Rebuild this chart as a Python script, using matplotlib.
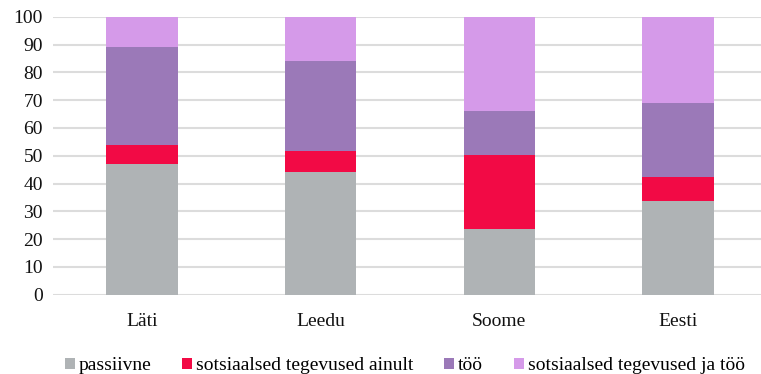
import numpy as np
import matplotlib.pyplot as plt

plt.rcParams['font.family'] = ['Liberation Serif', 'DejaVu Serif']

riigid = ['Läti', 'Leedu', 'Soome', 'Eesti']
passiivne = [47.0, 44.0, 23.7, 33.8]
sots_ainult = [7.0, 7.7, 26.5, 8.6]
too = [35.2, 32.4, 16.0, 26.7]
sots_ja_too = [10.8, 15.9, 33.8, 30.9]

seeriad = [
    ('passiivne', passiivne, '#afb3b5'),
    ('sotsiaalsed tegevused ainult', sots_ainult, '#f20a45'),
    ('töö', too, '#9b79b8'),
    ('sotsiaalsed tegevused ja töö', sots_ja_too, '#d59ae9'),
]

fig = plt.figure(figsize=(7.61, 3.74), dpi=100)
ax = fig.add_axes([0.0693, 0.212, 0.939, 0.743])

x = np.arange(len(riigid))
pohi = np.zeros(len(riigid))
for nimi, vaartused, varv in seeriad:
    ax.bar(x, vaartused, 0.4, bottom=pohi, color=varv, label=nimi, zorder=3)
    pohi += np.array(vaartused)

ax.set_xlim(-0.5, 3.5)
ax.set_ylim(0, 100)
ax.set_yticks(range(0, 101, 10))
ax.set_xticks(x)
ax.set_xticklabels(riigid)
ax.grid(axis='y', color='#dcdcdc', linewidth=1.5, zorder=0)
for s in ax.spines.values():
    s.set_visible(False)
ax.tick_params(axis='both', length=0, labelsize=14, colors='#111111')
ax.tick_params(axis='x', pad=13)
ax.tick_params(axis='y', pad=7)

fig.legend(loc='lower center', bbox_to_anchor=(0.532, -0.047), ncol=4, frameon=False,
           fontsize=14, handlelength=0.5, handleheight=0.5, handletextpad=0.2,
           columnspacing=1.6)

fig.savefig('out.png', dpi=100)
